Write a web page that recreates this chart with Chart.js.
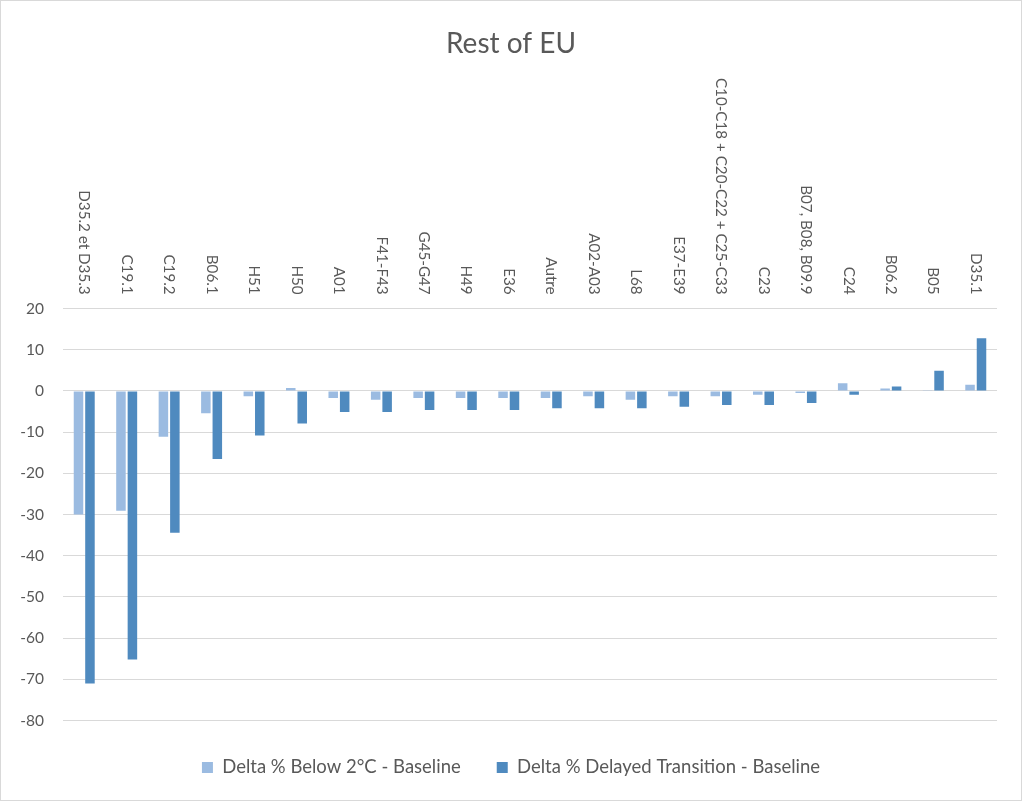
<!DOCTYPE html>
<html>
<head>
<meta charset="utf-8">
<script src="https://cdn.jsdelivr.net/npm/chart.js"></script>
<style>
  html, body { margin: 0; padding: 0; background: #fff; }
  #wrap { position: relative; width: 1022px; height: 801px; box-sizing: border-box; border: 1px solid #d9d9d9; }
</style>
</head>
<body>
<div id="wrap"><canvas id="myChart"></canvas></div>
<script>
const categories = ['D35.2 et D35.3', 'C19.1', 'C19.2', 'B06.1', 'H51', 'H50', 'A01', 'F41-F43', 'G45-G47', 'H49', 'E36',
  'Autre', 'A02-A03', 'L68', 'E37-E39', 'C10-C18 + C20-C22 + C25-C33', 'C23', 'B07, B08, B09.9', 'C24', 'B06.2', 'B05', 'D35.1'];
const below2C = [-30.0, -29.1, -11.1, -5.4, -1.3, 0.7, -1.7, -2.1, -1.7, -1.7, -1.7, -1.7, -1.3, -2.1, -1.3, -1.3, -0.9, -0.5, 1.9, 0.6, 0.2, 1.5];
const delayed = [-71.0, -65.2, -34.4, -16.5, -10.8, -7.9, -5.1, -5.1, -4.6, -4.6, -4.6, -4.2, -4.2, -4.2, -3.8, -3.4, -3.4, -2.9, -0.9, 1.1, 4.9, 12.8];
const seriesNames = ['Delta % Below 2°C - Baseline', 'Delta % Delayed Transition - Baseline'];
const yTicks = [20, 10, 0, -10, -20, -30, -40, -50, -60, -70, -80];

const textColor = '#595959';
const font = 'Lato';
const ctx = document.getElementById('myChart');

// category names sit above the plot, rotated, reading top to bottom
const topLabels = {
  id: 'topLabels',
  afterDraw(chart) {
    const c = chart.ctx;
    const x = chart.scales.x;
    c.save();
    c.font = '15.2px ' + font;
    c.fillStyle = textColor;
    c.textAlign = 'right';
    c.textBaseline = 'middle';
    categories.forEach((name, i) => {
      c.save();
      c.translate(x.getPixelForValue(i), chart.chartArea.top - 14);
      c.rotate(Math.PI / 2);
      c.fillText(name, 0, 0);
      c.restore();
    });
    c.restore();
  }
};

new Chart(ctx, {
  type: 'bar',
  data: {
    labels: categories,
    datasets: [{
      label: seriesNames[0],
      data: below2C,
      backgroundColor: '#9bbbe1',
      categoryPercentage: 0.54,
      barPercentage: 0.83
    },
    {
      label: seriesNames[1],
      data: delayed,
      backgroundColor: '#4f8abf',
      categoryPercentage: 0.54,
      barPercentage: 0.83
    }]
  },
  plugins: [topLabels],
  options: {
    responsive: true,
    maintainAspectRatio: false,
    animation: false,
    layout: { padding: { left: 12, right: 12, top: 0, bottom: 17.75 } },
    plugins: {
      title: {
        display: true,
        text: 'Rest of EU',
        color: textColor,
        font: { family: font, size: 28, weight: 'normal' },
        padding: { top: 26, bottom: 248 }
      },
      legend: {
        position: 'bottom',
        maxHeight: 60,
        labels: {
          color: textColor,
          font: { family: font, size: 18.5 },
          boxWidth: 11,
          boxHeight: 11,
          padding: 36
        }
      },
      tooltip: { enabled: false }
    },
    scales: {
      x: {
        ticks: { display: false },
        grid: { display: false },
        border: { display: false },
        afterFit: (s) => { s.height = 1.75; }
      },
      y: {
        min: -80,
        max: 20,
        afterBuildTicks: (s) => { s.ticks = yTicks.map(v => ({ value: v })); },
        afterFit: (s) => { s.width = 50; },
        ticks: {
          color: textColor,
          font: { family: font, size: 15.5 },
          padding: 19
        },
        grid: { color: '#d9d9d9', drawTicks: false },
        border: { display: false }
      },
      // empty right-hand axis, only keeps the plot off the right edge
      yRight: {
        type: 'linear',
        position: 'right',
        ticks: { display: false },
        grid: { display: false, drawTicks: false },
        border: { display: false },
        afterFit: (s) => { s.width = 12; }
      }
    }
  }
});
</script>
</body>
</html>
